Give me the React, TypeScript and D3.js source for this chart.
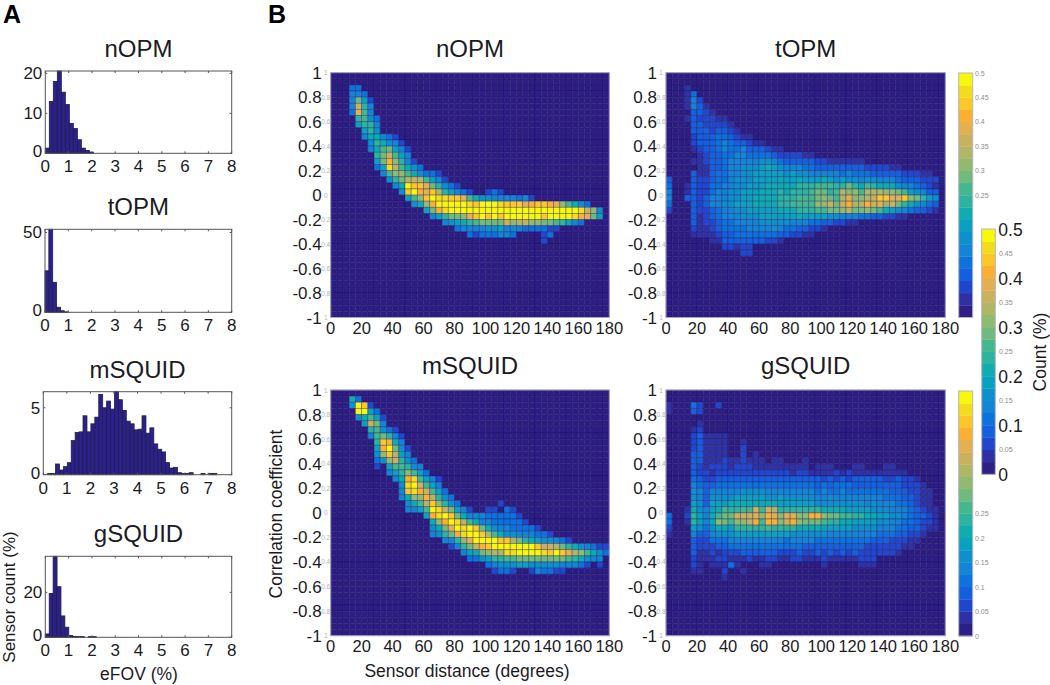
import React from "react";
import * as d3 from "d3";

// ---------- Histogram data (panel A), % of sensors per bin ----------
const nOPMBins = [1.3, 13, 18, 20.9, 15.3, 12.2, 7.5, 6.2, 3.4, 1.3, 0.7, 0.3];
const tOPMBins = [26, 60, 18.8, 3.2, 1.0, 0.3];
const mSQUIDBins = [0.1, 0.1, 0.8, 0.35, 0.6, 0.9, 2.55, 3.15, 3.2, 4.4, 3.2, 3.8, 4.3, 6, 5.0, 5.5, 4.9, 6.2, 5.6, 4.8, 4.0, 3.8, 3.35, 3.4, 4.4, 3.1, 3.5, 2.3, 1.9, 1.7, 0.9, 0.5, 0.55, 0.15, 0.1, 0.1, 0.15, 0, 0, 0.1, 0, 0.1, 0.1];
const gSQUIDBins = [1.5, 19.5, 36, 22.5, 9.5, 4.5, 0.8, 0.4, 0.3, 0.3, 0, 0.3, 0.3];
const histStarts = [0, 0, 0.184, 0];
const histWidths = [0.172, 0.165, 0.167, 0.168];
const histMax = [20.6, 52, 6.2, 36];
const histTicks = [[0, 10, 20], [0, 50], [0, 5], [0, 20]];
const panelNames = ["nOPM", "tOPM", "mSQUID", "gSQUID"];
const eFOVTicks = [0, 1, 2, 3, 4, 5, 6, 7, 8];

// ---------- Colour map (20 levels, 0 to 0.5) ----------
const levelColors = ["#2d1f84", "#2f30a4", "#2046cc", "#1460dc", "#0e72dc", "#1584d4", "#0e90cc", "#0aa0c0", "#10acb0", "#2eb49e", "#44b78e", "#6fba7c", "#8fba70", "#b0b668", "#c8b25f", "#e2b052", "#fbb033", "#fbc72a", "#f2dc1e", "#f8f80a"];

// ---------- Heat maps: [row from top, first column, levels in base 20] ----------
type Run = [number, number, string];
const nOPMRuns: Run[] = [
  [2, 3, "44"], [3, 3, "554"], [4, 3, "5b72"], [5, 3, "5e95"], [6, 3, "4fa5"], [7, 4, "9a64"], [8, 4, "7995"], [9, 5, "796"],
  [10, 5, "588542"], [11, 6, "698652"], [12, 6, "58ab752"], [13, 7, "9bea75"], [14, 7, "7bgc952"], [15, 7, "47ida864"],
  [16, 8, "5acca86442"], [17, 9, "69bdeda752"], [18, 10, "58jhhfb9642"], [19, 11, "6hjgfhd97542"], [19, 25, "242"],
  [20, 12, "7achjiihhfa8665555452"], [21, 13, "68cgjjjjjihjjjihhhfghhgfca864"],
  [22, 15, "7bgijjjj" + "jjjjjjjjjjjjjj" + "jjjiec6"], [23, 16, "579bbcfh" + "jhjh" + "jjjjjj" + "hjjjj" + "igfb7"],
  [24, 18, "56789a" + "bbbb" + "ecdecc" + "bb" + "a9754"], [25, 20, "45555667555444422"], [26, 22, "42444554"], [26, 34, "24"], [27, 34, "2"],
];
const tOPMRuns: Run[] = [
  [2, 3, "1"], [3, 3, "14"], [4, 3, "152"], [5, 3, "1531"], [6, 4, "3321"], [7, 3, "1322211"], [8, 4, "3322221"], [9, 4, "33323321"],
  [10, 4, "2333443211"], [11, 4, "233345433211"], [12, 4, "123345445333211"], [13, 5, "1233445544443222211"],
  [14, 4, "1123345555566543333322111111"], [15, 5, "113345566678765554433333333222211"],
  [16, 4, "3113445566" + "7777767665" + "5555454443" + "333322211"],
  [17, 0, "3"], [17, 4, "3223445666" + "7777877877" + "7876766566" + "5554333222"],
  [18, 0, "4"], [18, 3, "1"], [18, 4, "3224455667" + "7788888999" + "aaa99b98a9" + "8886554321"],
  [19, 0, "5"], [19, 3, "1"], [19, 4, "3224556677" + "788898999a" + "bb9adccadd" + "dccba76533"],
  [20, 0, "5"], [20, 3, "3"], [20, 4, "3235556677" + "8888999aaa" + "bcbadfccde" + "hhffhcb976"],
  [21, 0, "4"], [21, 4, "3235566777" + "888899aaaa" + "ccebegddge" + "fceb986543"],
  [22, 0, "2"], [22, 4, "3223455667" + "7777888999" + "aabbcdbbcb" + "a876543321"],
  [23, 4, "3123455566" + "6777777877" + "7766555443" + "32211"],
  [24, 4, "3122344555" + "5666665554" + "4332211"], [25, 4, "2112344445" + "5556544332" + "21"],
  [26, 4, "1111233444" + "4444332211"], [27, 7, "113333333221"], [28, 9, "22122"], [29, 12, "22"],
];
const mSQUIDRuns: Run[] = [
  [1, 3, "84"], [2, 3, "6jh2"], [3, 4, "jj74"], [4, 4, "68a72"], [5, 5, "7eb5"], [6, 6, "9a642"], [7, 6, "5ab952"], [8, 7, "9hg85"],
  [9, 7, "7gjb62"], [10, 7, "6chd75"], [11, 7, "46ce964"], [12, 7, "2"], [12, 9, "7aa965"], [13, 9, "579ca74"], [14, 10, "58gia752"],
  [15, 11, "6ijea75"], [16, 11, "5higea74"], [17, 11, "58ccgd964"], [18, 12, "68adhc964"], [18, 27, "2"],
  [19, 12, "557ajieb752"], [19, 25, "22"], [19, 28, "42"], [20, 15, "7gijhb8555444442"], [21, 16, "8cgjida855444442"],
  [22, 16, "68bfjijhb865544442"], [23, 16, "569bfijjhda866555442"], [24, 18, "559cfjjjjhhdb98766542"],
  [25, 19, "259beghjjjjjjjheedb9865422"], [26, 21, "578bcddiijjjjihjhfdca864"], [27, 22, "446799aabbbbbbbba98655"],
  [28, 25, "45666776666655542"], [28, 43, "2"], [29, 26, "2442"], [29, 32, "254422"],
];
const gSQUIDRuns: Run[] = [
  [2, 0, "1"], [2, 4, "42"], [2, 8, "2"], [3, 0, "1"], [3, 4, "32"], [5, 5, "1"], [6, 4, "12"], [7, 4, "231111"], [8, 4, "231111"], [8, 12, "1"],
  [9, 4, "231111"], [9, 12, "2"], [10, 4, "331111"], [10, 12, "2"], [10, 14, "1"], [11, 4, "331112112111"], [11, 17, "11"], [11, 22, "1"],
  [12, 4, "3212221222111111111"], [12, 24, "111"], [12, 30, "11"], [12, 35, "11"],
  [13, 4, "3221222222" + "2222221221" + "1112121111" + "11111"],
  [14, 4, "4322333333" + "3333333333" + "3232323333" + "3223221"],
  [15, 4, "5433444444" + "4444444444" + "3434443333" + "33332221"],
  [16, 4, "6535555566" + "6655555555" + "4544544444" + "443332211"],
  [17, 4, "6536666777" + "7766766666" + "5565555555" + "544433211"],
  [18, 4, "7637778888" + "8888777777" + "6666666656" + "555443211"],
  [19, 3, "1"], [19, 4, "86578a99aa" + "eaed999999" + "9888877776" + "6655543211"],
  [20, 0, "4"], [20, 3, "2"], [20, 4, "9758abbeee" + "fcgfcffccg" + "gcbbaa9988" + "7766543321"],
  [21, 0, "4"], [21, 3, "1"], [21, 4, "9758cbaccd" + "gaggcegcbb" + "ba99887777" + "6655443221"],
  [22, 0, "2"], [22, 4, "7646887999" + "99a9999888" + "8777776666" + "5554433211"],
  [23, 0, "1"], [23, 4, "5335666777" + "7777776666" + "6655555555" + "44433221"],
  [24, 4, "3224445555" + "5555545555" + "4444444443" + "3322211"],
  [25, 4, "3222334444" + "4444444433" + "3333333322" + "222211"],
  [26, 4, "3112122233" + "3333222322" + "3232323222" + "2221"],
  [27, 4, "2111221112" + "1122112211" + "1211111222"],
  [28, 4, "21"], [28, 7, "1114"], [28, 11, "1"], [28, 15, "11"], [28, 25, "1"], [28, 31, "111"],
  [29, 4, "11"], [29, 9, "2"], [29, 12, "1"], [30, 9, "1"],
];

const distanceTicks = [0, 20, 40, 60, 80, 100, 120, 140, 160, 180];
const corrTicks = [-1, -0.8, -0.6, -0.4, -0.2, 0, 0.2, 0.4, 0.6, 0.8, 1];
const smallCbarTopTicks = [0.25, 0.3, 0.35, 0.4, 0.45, 0.5];
const smallCbarBottomTicks = [0, 0.05, 0.1, 0.15, 0.2, 0.25];
const bigCbarTicks = [0, 0.1, 0.2, 0.3, 0.4, 0.5];
const bigCbarMinorTicks = [0.05, 0.15, 0.25, 0.35, 0.45];
const COLS = 45;
const ROWS = 40;

const FONT = "'Liberation Sans', Arial, sans-serif";
const INK = "#1b1b1f";

function Hist({ bins, i, box }: { bins: number[]; i: number; box: number[] }) {
  const [l, t, r, b] = box;
  const x = d3.scaleLinear().domain([0, 8]).range([l, r]);
  const y = d3.scaleLinear().domain([0, histMax[i]]).range([b, t]).clamp(true);
  return (
    <g>
      {bins.map((v, k) =>
        v > 0 ? (
          <rect key={k} x={x(histStarts[i] + k * histWidths[i])} y={y(v)} width={x(histWidths[i]) - x(0)} height={b - y(v)} fill="#2c2090" stroke="#20203a" strokeWidth={0.8} />
        ) : null
      )}
      <rect x={l} y={t} width={r - l} height={b - t} fill="none" stroke="#55555a" strokeWidth={1} />
      {eFOVTicks.map((v) => (
        <g key={v}>
          <line x1={x(v)} x2={x(v)} y1={b} y2={b - 2} stroke="#55555a" />
          <line x1={x(v)} x2={x(v)} y1={t} y2={t + 2} stroke="#55555a" />
          <text x={x(v)} y={b + 19} fontSize={17} textAnchor="middle" fill={INK}>{v}</text>
        </g>
      ))}
      {histTicks[i].map((v) => (
        <g key={v}>
          <line x1={l} x2={l + 2} y1={y(v)} y2={y(v)} stroke="#55555a" />
          <line x1={r} x2={r - 2} y1={y(v)} y2={y(v)} stroke="#55555a" />
          <text x={l - 3} y={Math.min(y(v), b - 2) + 6} fontSize={17} textAnchor="end" fill={INK}>{v}</text>
        </g>
      ))}
      <text x={(l + r) / 2} y={t - 14} fontSize={24} textAnchor="middle" fill={INK}>{panelNames[i]}</text>
    </g>
  );
}

function Heat({ runs, box, name }: { runs: Run[]; box: number[]; name: string }) {
  const [l, t, r, b] = box;
  const x = d3.scaleLinear().domain([0, 180]).range([l, r]);
  const y = d3.scaleLinear().domain([-1, 1]).range([b, t]);
  const cols = d3.range(COLS);
  const rows = d3.range(ROWS);
  const grid: number[][] = rows.map(() => cols.map(() => 0));
  runs.forEach(([row, col, s]) => {
    s.split("").forEach((ch, k) => {
      grid[row][col + k] = parseInt(ch, 20);
    });
  });
  const cw = x(4) - x(0);
  const ch = y(0) - y(0.05);
  return (
    <g>
      <g filter="url(#soft)">
        {rows.map((row) =>
          cols.map((col) => (
            <rect key={`${row}-${col}`} x={x(col * 4)} y={y(1 - row * 0.05)} width={cw} height={ch} fill={levelColors[grid[row][col]]} stroke="#120c55" strokeOpacity={0.4} strokeWidth={0.8} />
          ))
        )}
      </g>
      <rect x={l} y={t} width={r - l} height={b - t} fill="none" stroke="#a9a8c4" strokeWidth={1} />
      {corrTicks.map((v) => (
        <g key={v}>
          <text x={l - 9} y={y(v) + 6} fontSize={17} textAnchor="end" fill={INK}>{v}</text>
          <text x={l - 5} y={y(v) + 2.5} fontSize={6.5} textAnchor="middle" fill="#b4b4b4">{Math.abs(v)}</text>
        </g>
      ))}
      {distanceTicks.map((v) => (
        <text key={v} x={x(v)} y={b + 16} fontSize={16.5} textAnchor="middle" fill={INK}>{v}</text>
      ))}
      <text x={(l + r) / 2} y={t - 16} fontSize={24} textAnchor="middle" fill={INK}>{name}</text>
    </g>
  );
}

function ColorBar({ box, major, minor, majorSize, minorX }: { box: number[]; major: number[]; minor: number[]; majorSize: number; minorX: number }) {
  const [l, t, r, b] = box;
  const y = d3.scaleLinear().domain([0, 0.5]).range([b, t]);
  return (
    <g>
      {levelColors.map((c, k) => (
        <rect key={k} x={l} y={y((k + 1) * 0.025)} width={r - l} height={y(k * 0.025) - y((k + 1) * 0.025) + 0.3} fill={c} />
      ))}
      <rect x={l} y={t} width={r - l} height={b - t} fill="none" stroke="#b5b5c0" strokeWidth={1} />
      {major.map((v) => (
        <text key={v} x={r + 3} y={y(v) + 6.5} fontSize={majorSize} fill={INK}>{v}</text>
      ))}
      {minor.map((v) => (
        <text key={v} x={minorX} y={y(v) + 2.5} fontSize={7} fill="#8c8c8c">{v}</text>
      ))}
    </g>
  );
}

export default function App() {
  return (
    <svg width={1050} height={685} style={{ position: "absolute", left: 0, top: 0, background: "#fff", fontFamily: FONT }}>
      <defs>
        <filter id="soft" x="-2%" y="-2%" width="104%" height="104%">
          <feGaussianBlur stdDeviation={0.45} />
        </filter>
      </defs>
      <text x={3} y={23} fontSize={25} fontWeight={700} fill="#000">A</text>
      <text x={268} y={23} fontSize={25} fontWeight={700} fill="#000">B</text>

      <Hist bins={nOPMBins} i={0} box={[45.3, 71, 231.7, 153.3]} />
      <Hist bins={tOPMBins} i={1} box={[45, 229.3, 231.7, 312.3]} />
      <Hist bins={mSQUIDBins} i={2} box={[43.3, 391.7, 231.7, 474.7]} />
      <Hist bins={gSQUIDBins} i={3} box={[45.3, 556.3, 231.7, 637.3]} />
      <text x={139} y={680} fontSize={17.5} textAnchor="middle" fill={INK}>eFOV (%)</text>
      <text transform="translate(15,597) rotate(-90)" fontSize={17} textAnchor="middle" fill={INK}>Sensor count (%)</text>

      <Heat runs={nOPMRuns} box={[330.7, 72.7, 609.3, 317.5]} name="nOPM" />
      <Heat runs={tOPMRuns} box={[666, 72.7, 945.3, 317.5]} name="tOPM" />
      <Heat runs={mSQUIDRuns} box={[330.7, 390, 609.3, 635.7]} name="mSQUID" />
      <Heat runs={gSQUIDRuns} box={[666, 390, 945.3, 635.7]} name="gSQUID" />
      <text x={467} y={677} fontSize={17.5} textAnchor="middle" fill={INK}>Sensor distance (degrees)</text>
      <text transform="translate(282,514) rotate(-90)" fontSize={17.5} textAnchor="middle" fill={INK}>Correlation coefficient</text>

      <ColorBar box={[958.7, 73, 972.7, 317.5]} major={[]} minor={smallCbarTopTicks} majorSize={0} minorX={975} />
      <ColorBar box={[958.7, 391, 972.7, 636]} major={[]} minor={smallCbarBottomTicks} majorSize={0} minorX={975} />
      <ColorBar box={[981.7, 229, 995.3, 474.3]} major={bigCbarTicks} minor={bigCbarMinorTicks} majorSize={17.5} minorX={999} />
      <text transform="translate(1046,352) rotate(-90)" fontSize={17.5} textAnchor="middle" fill={INK}>Count (%)</text>
    </svg>
  );
}
